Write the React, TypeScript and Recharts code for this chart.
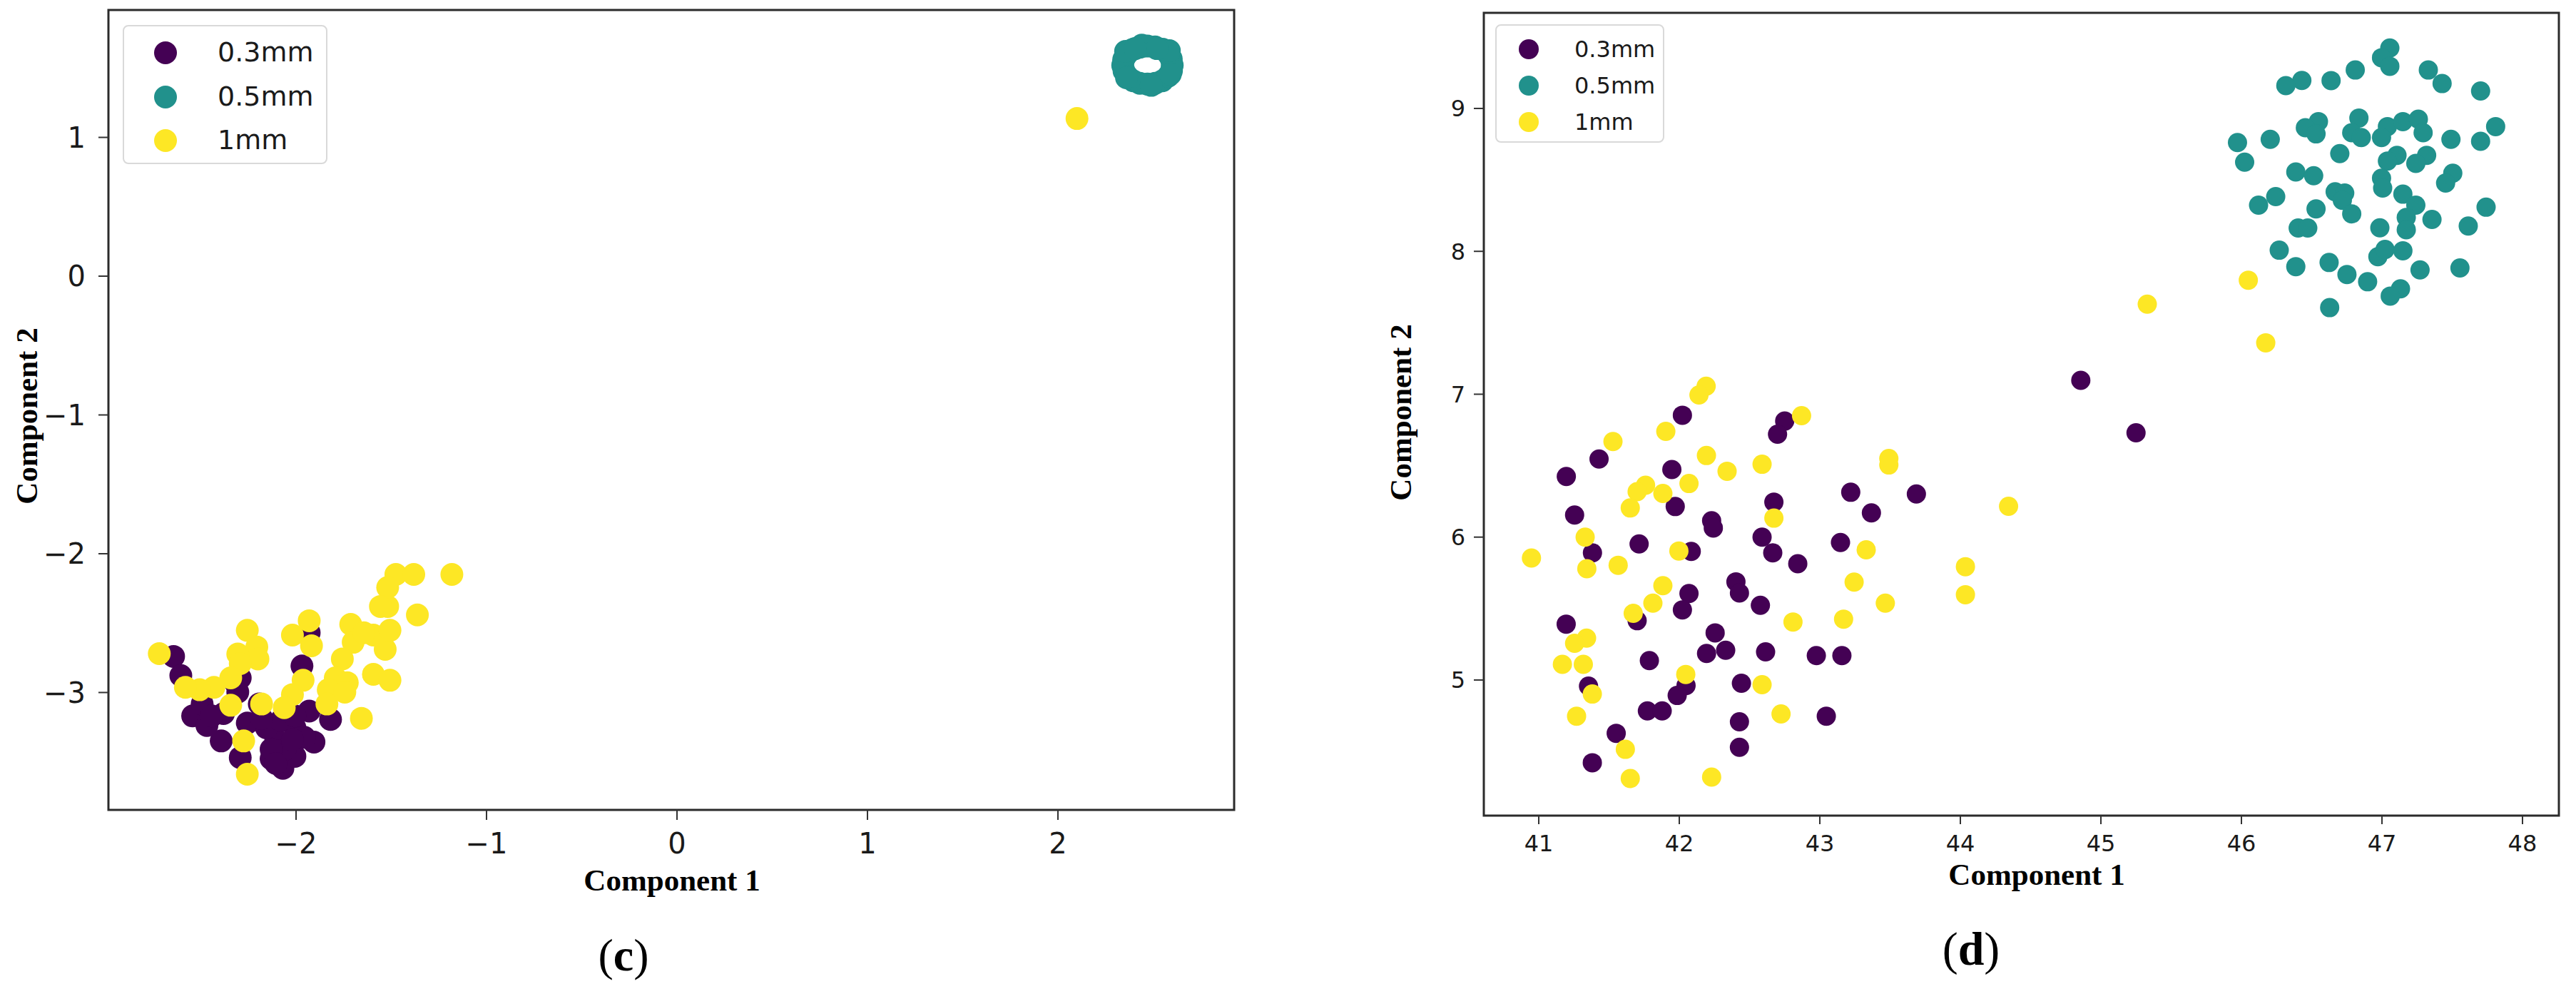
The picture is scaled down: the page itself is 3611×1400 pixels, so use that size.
import React from 'react';
import { ScatterChart, Scatter, XAxis, YAxis, ReferenceArea, Legend } from 'recharts';

type Pt = [number, number];

const seriesNames = ['0.3mm', '0.5mm', '1mm'];
const seriesColors = ['#440154', '#21918c', '#fde725'];

// ---- panel (c) ----
const cTicksX = [-2, -1, 0, 1, 2];
const cTicksY = [-3, -2, -1, 0, 1];

const cPurple: Pt[] = [
  [-2.643, -2.74], [-2.605, -2.878], [-1.969, -2.809], [-2.543, -3.169], [-2.468, -3.238],
  [-2.393, -3.349], [-2.293, -3.469], [-2.131, -3.477], [-2.069, -3.546], [-2.006, -3.46],
  [-1.906, -3.357], [-1.819, -3.194], [-1.931, -3.134], [-2.106, -3.34], [-2.193, -3.083],
  [-2.318, -2.929], [-2.306, -2.997], [-2.493, -3.083], [-2.256, -3.22], [-2.156, -3.254],
  [-2.006, -3.254], [-2.056, -3.409], [-1.956, -3.323], [-2.381, -3.152], [-2.081, -3.203],
  [-1.931, -2.569], [-2.006, -3.169], [-2.131, -3.409], [-2.443, -3.169], [-2.181, -3.186],
  [-2.106, -3.512], [-2.019, -3.34], [-2.293, -2.895],
];

const cTeal: Pt[] = [
  [2.6, 1.52], [2.595, 1.565], [2.58, 1.6], [2.55, 1.635], [2.51, 1.652], [2.47, 1.658],
  [2.43, 1.65], [2.39, 1.632], [2.362, 1.6], [2.345, 1.56], [2.34, 1.52], [2.347, 1.478],
  [2.365, 1.44], [2.395, 1.408], [2.43, 1.39], [2.47, 1.384], [2.51, 1.39], [2.548, 1.408],
  [2.578, 1.44], [2.596, 1.48], [2.585, 1.625], [2.44, 1.665], [2.355, 1.62], [2.36, 1.43],
  [2.49, 1.375], [2.59, 1.455], [2.52, 1.64], [2.405, 1.64],
];

const cYellow: Pt[] = [
  [-2.718, -2.72], [-2.256, -2.552], [-2.206, -2.672], [-2.2, -2.758], [-2.306, -2.723],
  [-2.293, -2.792], [-2.343, -2.895], [-2.431, -2.963], [-2.506, -2.98], [-2.581, -2.963],
  [-2.343, -3.092], [-2.181, -3.083], [-2.275, -3.349], [-2.256, -3.589], [-2.019, -2.586],
  [-1.931, -2.483], [-1.919, -2.663], [-1.963, -2.912], [-2.019, -3.015], [-2.062, -3.109],
  [-1.713, -2.509], [-1.7, -2.638], [-1.757, -2.758], [-1.794, -2.895], [-1.731, -2.929],
  [-1.831, -2.98], [-1.838, -3.083], [-1.744, -2.997], [-1.594, -2.586], [-1.532, -2.689],
  [-1.507, -2.552], [-1.519, -2.38], [-1.476, -2.149], [-1.382, -2.149], [-1.519, -2.243],
  [-1.557, -2.38], [-1.363, -2.441], [-1.182, -2.149], [-1.594, -2.869], [-1.507, -2.912],
  [-1.657, -3.186], [-1.644, -2.569], [2.1, 1.136],
];

// ---- panel (d) ----
const dTicksX = [41, 42, 43, 44, 45, 46, 47, 48];
const dTicksY = [5, 6, 7, 8, 9];

const dPurple: Pt[] = [
  [42.022, 6.853], [42.75, 6.812], [42.699, 6.72], [41.429, 6.547], [41.196, 6.424],
  [41.947, 6.473], [41.971, 6.214], [41.255, 6.155], [42.23, 6.115], [42.242, 6.064],
  [42.673, 6.245], [42.589, 6.0], [42.665, 5.89], [42.843, 5.814], [41.714, 5.952],
  [41.382, 5.89], [42.085, 5.9], [42.403, 5.687], [42.428, 5.609], [42.577, 5.523],
  [42.069, 5.605], [42.022, 5.491], [41.7, 5.415], [41.195, 5.391], [42.255, 5.33],
  [42.33, 5.208], [42.194, 5.186], [42.614, 5.197], [41.787, 5.136], [41.354, 4.957],
  [42.048, 4.961], [41.985, 4.892], [42.442, 4.977], [41.773, 4.784], [41.878, 4.784],
  [42.428, 4.708], [42.428, 4.529], [41.551, 4.627], [41.381, 4.421], [43.22, 6.314],
  [43.687, 6.302], [43.367, 6.17], [43.147, 5.962], [42.975, 5.171], [43.157, 5.171],
  [43.046, 4.747], [44.857, 7.097], [45.25, 6.73],
];

const dTeal: Pt[] = [
  [47.056, 9.423], [46.997, 9.355], [47.056, 9.295], [46.81, 9.269], [46.43, 9.196],
  [46.316, 9.16], [46.638, 9.195], [47.33, 9.269], [47.428, 9.174], [47.702, 9.122],
  [46.548, 8.908], [46.455, 8.865], [46.531, 8.822], [46.836, 8.933], [46.785, 8.83],
  [46.853, 8.796], [47.039, 8.873], [46.997, 8.796], [47.149, 8.908], [47.259, 8.925],
  [47.293, 8.83], [47.491, 8.784], [47.702, 8.77], [47.809, 8.873], [45.972, 8.761],
  [46.205, 8.784], [46.023, 8.624], [46.7, 8.684], [47.107, 8.672], [47.039, 8.632],
  [47.318, 8.672], [47.241, 8.615], [46.387, 8.555], [46.514, 8.529], [46.997, 8.512],
  [47.005, 8.443], [47.504, 8.547], [47.453, 8.478], [46.667, 8.417], [46.735, 8.408],
  [46.718, 8.357], [46.785, 8.262], [47.149, 8.4], [47.241, 8.323], [47.173, 8.237],
  [47.173, 8.151], [47.356, 8.223], [47.741, 8.309], [47.614, 8.177], [46.122, 8.323],
  [46.244, 8.383], [46.531, 8.297], [46.404, 8.163], [46.472, 8.163], [46.985, 8.165],
  [46.269, 8.008], [46.387, 7.893], [46.624, 7.922], [46.751, 7.838], [46.898, 7.787],
  [46.971, 7.962], [47.022, 8.013], [47.149, 8.004], [47.271, 7.87], [47.555, 7.884],
  [47.132, 7.738], [47.059, 7.687], [46.628, 7.606],
];

const dYellow: Pt[] = [
  [42.191, 7.056], [42.14, 6.995], [41.904, 6.74], [41.528, 6.669], [42.193, 6.571],
  [42.34, 6.461], [42.589, 6.51], [42.069, 6.375], [41.76, 6.363], [41.7, 6.318],
  [41.883, 6.306], [41.651, 6.204], [42.673, 6.133], [41.33, 6.0], [41.997, 5.903],
  [40.948, 5.854], [41.342, 5.779], [41.565, 5.803], [41.883, 5.66], [41.812, 5.538],
  [41.672, 5.467], [42.809, 5.406], [41.34, 5.293], [41.255, 5.257], [41.168, 5.11],
  [41.317, 5.11], [42.046, 5.039], [41.381, 4.902], [42.589, 4.967], [41.269, 4.747],
  [42.724, 4.763], [41.616, 4.515], [41.651, 4.311], [42.23, 4.321], [42.87, 6.85],
  [43.491, 6.55], [43.491, 6.505], [44.343, 6.216], [43.33, 5.911], [44.036, 5.793],
  [43.244, 5.685], [44.036, 5.597], [43.466, 5.538], [43.169, 5.426], [46.049, 7.798],
  [46.173, 7.36], [45.33, 7.63],
];

const toRows = (pts: Pt[]) => pts.map(([x, y]) => ({ x, y }));
const fmt = (v: number) => (v < 0 ? '\u2212' + Math.abs(v) : String(v));

const dot = (r: number, color: string) => (props: any) =>
  props.cx == null ? <g /> : <circle cx={props.cx} cy={props.cy} r={r} fill={color} />;

interface LegendGeom {
  left: number; top: number; w: number; h: number;
  firstRow: number; rowGap: number; markX: number; markR: number; textX: number; fontSize: number;
}

const legendBox = (g: LegendGeom) => (props: any) => {
  const items = props.payload || [];
  const rowH = g.rowGap;
  return (
    <div style={{ position: 'relative', width: g.w, height: g.h, boxSizing: 'border-box', border: '2px solid #d9d9d9', borderRadius: 8, background: '#fff' }}>
      {items.map((it: any, i: number) => {
        const idx = seriesNames.indexOf(it.value);
        const color = idx >= 0 ? seriesColors[idx] : it.color;
        const cy = g.firstRow + i * g.rowGap;
        return (
          <div key={i}>
            <span style={{ position: 'absolute', left: g.markX - g.markR, top: cy - g.markR, width: g.markR * 2, height: g.markR * 2, borderRadius: '50%', background: color }} />
            <span style={{ position: 'absolute', left: g.textX, top: cy - rowH / 2, height: rowH, lineHeight: rowH + 'px', fontSize: g.fontSize, fontFamily: 'DejaVu Sans', color: '#1a1a1a', whiteSpace: 'nowrap' }}>{it.value}</span>
          </div>
        );
      })}
    </div>
  );
};

interface PanelProps {
  left: number; width: number;
  margin: { top: number; right: number; bottom: number; left: number };
  xDomain: [number, number]; yDomain: [number, number];
  xTicks: number[]; yTicks: number[];
  series: Pt[][]; r: number;
  tickFont: number; xTickSize: number; xTickMargin: number; yTickSize: number; yTickMargin: number;
  legend: LegendGeom;
  xTitle: [number, number]; yTitle: [number, number]; letter: string; letterPos: [number, number]; letterFont: number;
}

function Panel(p: PanelProps) {
  const tickStyle = { fontSize: p.tickFont, fill: '#1a1a1a', fontFamily: 'DejaVu Sans' };
  const serif = 'Liberation Serif, Times New Roman, serif';
  return (
    <div style={{ position: 'absolute', left: p.left, top: 0 }}>
      <ScatterChart width={p.width} height={1400} margin={p.margin}>
        <XAxis
          type="number" dataKey="x" domain={p.xDomain} allowDataOverflow ticks={p.xTicks} interval={0}
          height={120} axisLine={false} tickFormatter={fmt} tick={tickStyle}
          tickSize={p.xTickSize} tickMargin={p.xTickMargin} tickLine={{ stroke: '#333', strokeWidth: 2 }}
          label={{
            content: () => (
              <g>
                <text x={p.xTitle[0]} y={p.xTitle[1]} textAnchor="middle" fontFamily={serif} fontWeight="bold" fontSize={43} fill="#000">Component 1</text>
                <text x={p.letterPos[0]} y={p.letterPos[1]} textAnchor="middle" fontFamily={serif} fontSize={p.letterFont} fill="#000">(<tspan fontWeight="bold">{p.letter}</tspan>)</text>
              </g>
            ),
          }}
        />
        <YAxis
          type="number" dataKey="y" domain={p.yDomain} allowDataOverflow ticks={p.yTicks} interval={0}
          width={100} axisLine={false} tickFormatter={fmt} tick={tickStyle}
          tickSize={p.yTickSize} tickMargin={p.yTickMargin} tickLine={{ stroke: '#333', strokeWidth: 2 }}
          label={{
            content: () => (
              <text x={p.yTitle[0]} y={p.yTitle[1]} transform={`rotate(-90 ${p.yTitle[0]} ${p.yTitle[1]})`} textAnchor="middle" fontFamily={serif} fontWeight="bold" fontSize={43} fill="#000">Component 2</text>
            ),
          }}
        />
        {p.series.map((pts, i) => (
          <Scatter key={seriesNames[i]} name={seriesNames[i]} data={toRows(pts)} fill={seriesColors[i]} shape={dot(p.r, seriesColors[i])} isAnimationActive={false} />
        ))}
        <ReferenceArea x1={p.xDomain[0]} x2={p.xDomain[1]} y1={p.yDomain[0]} y2={p.yDomain[1]} fill="none" fillOpacity={0} stroke="#2b2b2b" strokeWidth={3} ifOverflow="visible" />
        <Legend layout="vertical" align="center" verticalAlign="middle" content={legendBox(p.legend)}
          wrapperStyle={{ left: p.legend.left, top: p.legend.top, width: p.legend.w, height: p.legend.h }} />
      </ScatterChart>
    </div>
  );
}

export default function App() {
  return (
    <div style={{ position: 'absolute', left: 0, top: 0, width: 3611, height: 1400, background: '#fff', overflow: 'hidden' }}>
      <Panel
        left={0} width={1800}
        margin={{ top: 14, right: 70, bottom: 145, left: 52 }}
        xDomain={[-2.985, 2.925]} yDomain={[-3.846, 1.918]}
        xTicks={cTicksX} yTicks={cTicksY}
        series={[cPurple, cTeal, cYellow]} r={16}
        tickFont={40} xTickSize={14} xTickMargin={19} yTickSize={14} yTickMargin={18}
        legend={{ left: 172, top: 35, w: 287, h: 195, firstRow: 37, rowGap: 61.5, markX: 58, markR: 16, textX: 131, fontSize: 38 }}
        xTitle={[942, 1248]} yTitle={[52, 583]} letter="c" letterPos={[874, 1360]} letterFont={64}
      />
      <Panel
        left={1880} width={1731}
        margin={{ top: 18, right: 24, bottom: 137, left: 100 }}
        xDomain={[40.609, 48.259]} yDomain={[4.051, 9.669]}
        xTicks={dTicksX} yTicks={dTicksY}
        series={[dPurple, dTeal, dYellow]} r={13.5}
        tickFont={32} xTickSize={12} xTickMargin={15} yTickSize={14} yTickMargin={12}
        legend={{ left: 216, top: 34, w: 237, h: 166, firstRow: 33, rowGap: 51, markX: 45, markR: 14, textX: 109, fontSize: 32 }}
        xTitle={[975, 1240]} yTitle={[98, 578]} letter="d" letterPos={[883, 1352]} letterFont={66}
      />
    </div>
  );
}
